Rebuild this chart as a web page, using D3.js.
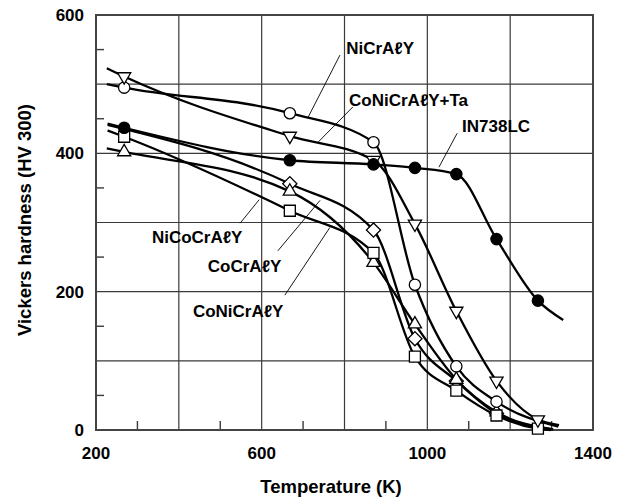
<!DOCTYPE html>
<html>
<head>
<meta charset="utf-8">
<script src="https://cdn.jsdelivr.net/npm/d3@7"></script>
<style>
  body { margin: 0; background: #fff; }
  svg text { font-family: "Liberation Sans", Arial, sans-serif; font-weight: bold; fill: #000; }
</style>
</head>
<body>
<svg id="chart" width="623" height="503"></svg>
<script>
// measured temperatures (K)
const temps = [268, 668, 870, 970, 1070, 1167, 1267];

// hardness at each temperature, null = no marker
const niCrAlY    = [495, 458, 416, 210, 92, 41, null];
const coNiCrAlYTa = [511, 425, 390, 298, 172, 71, 15];
const in738LC    = [437, 390, 384, 379, 370, 276, 187];
const niCoCrAlY  = [402, 345, 242, 153, 73, 26, null];
const coCrAlY    = [null, 356, 289, 132, 71, 24, null];
const coNiCrAlY  = [424, 317, 256, 106, 57, 21, 2];

// where each fitted curve starts and stops [K, HV]
const curveStarts = [[226, 500], [226, 523], [228, 443], [226, 407], [228, 441], [228, 433]];
const curveEnds   = [[1316, 5], [1318, 7], [1328, 159], [1302, 1], [1304, 1], [1298, 0]];

const seriesNames = ["NiCrAℓY", "CoNiCrAℓY+Ta", "IN738LC", "NiCoCrAℓY", "CoCrAℓY", "CoNiCrAℓY"];
const seriesValues = [niCrAlY, coNiCrAlYTa, in738LC, niCoCrAlY, coCrAlY, coNiCrAlY];
const seriesMarks = ["circle", "triDown", "dot", "triUp", "diamond", "square"];

// label anchor [K, HV] and leader line [[K, HV], [K, HV]]
const labelPos = [[804, 552], [811, 477], [1084, 439], [335, 279], [470, 237], [434, 172]];
const leaders = [
  [[789, 542], [712, 452]],
  [[820, 467], [736, 416]],
  [[1072, 429], [1028, 380]],
  [[548, 299], [594, 333]],
  [[639, 259], [741, 332]],
  [[656, 195], [765, 293]]
];

const xTicks = [200, 600, 1000, 1400];
const yTicks = [0, 200, 400, 600];

const svg = d3.select("#chart");
const x = d3.scaleLinear().domain([200, 1400]).range([96, 593]);
const y = d3.scaleLinear().domain([0, 600]).range([430, 15]);

// grid
const grid = svg.append("g").attr("stroke", "#3a3a3a").attr("stroke-width", 1.2);
grid.selectAll("line.v").data([400, 600, 800, 1000, 1200]).enter().append("line")
  .attr("x1", d => x(d)).attr("x2", d => x(d)).attr("y1", y(0)).attr("y2", y(600));
grid.selectAll("line.h").data([100, 200, 300, 400, 500]).enter().append("line")
  .attr("class", "h")
  .attr("x1", x(200)).attr("x2", x(1400)).attr("y1", d => y(d)).attr("y2", d => y(d));

// minor ticks, inward
const ticks = svg.append("g").attr("stroke", "#3a3a3a").attr("stroke-width", 1.4);
ticks.selectAll("line.bx").data(d3.range(300, 1400, 200)).enter().append("line")
  .attr("x1", d => x(d)).attr("x2", d => x(d)).attr("y1", y(0)).attr("y2", y(0) - 9);
ticks.selectAll("line.ly").data(d3.range(50, 600, 100)).enter().append("line")
  .attr("class", "ly")
  .attr("x1", x(200)).attr("x2", x(200) + 8).attr("y1", d => y(d)).attr("y2", d => y(d));

// frame
svg.append("rect")
  .attr("x", x(200)).attr("y", y(600))
  .attr("width", x(1400) - x(200)).attr("height", y(0) - y(600))
  .attr("fill", "none").attr("stroke", "#444").attr("stroke-width", 2);

// tick labels
svg.append("g").selectAll("text").data(xTicks).enter().append("text")
  .attr("x", d => x(d)).attr("y", 459)
  .attr("text-anchor", "middle").attr("font-size", 17)
  .text(d => d);
svg.append("g").selectAll("text").data(yTicks).enter().append("text")
  .attr("x", 84).attr("y", d => y(d) + 6)
  .attr("text-anchor", "end").attr("font-size", 17)
  .text(d => d);

// axis titles
svg.append("text")
  .attr("x", 331).attr("y", 493)
  .attr("text-anchor", "middle").attr("font-size", 18.5)
  .text("Temperature (K)");
svg.append("text")
  .attr("transform", "translate(31,220) rotate(-90)")
  .attr("text-anchor", "middle").attr("font-size", 18.5)
  .text("Vickers hardness (HV 300)");

// curves
const line = d3.line()
  .x(d => x(d[0])).y(d => y(d[1]))
  .curve(d3.curveMonotoneX);

seriesValues.forEach((vals, i) => {
  const pts = [curveStarts[i]]
    .concat(temps.map((t, j) => [t, vals[j]]).filter(p => p[1] !== null))
    .concat([curveEnds[i]]);
  svg.append("path")
    .attr("d", line(pts))
    .attr("fill", "none").attr("stroke", "#000").attr("stroke-width", 2.3);
});

// markers
const symbolFor = {
  circle: d3.symbol().type(d3.symbolCircle).size(100),
  dot: d3.symbol().type(d3.symbolCircle).size(100),
  square: d3.symbol().type(d3.symbolSquare).size(121),
  diamond: d3.symbol().type(d3.symbolSquare).size(100),
  triUp: d3.symbol().type(d3.symbolTriangle).size(75),
  triDown: d3.symbol().type(d3.symbolTriangle).size(75)
};
const rotFor = { diamond: 45, triDown: 180 };

// draw in back-to-front order so squares sit on top like the reference
[4, 3, 5, 0, 1, 2].forEach(i => {
  const kind = seriesMarks[i];
  const pts = temps.map((t, j) => [t, seriesValues[i][j]]).filter(p => p[1] !== null);
  svg.append("g").selectAll("path").data(pts).enter().append("path")
    .attr("d", symbolFor[kind]())
    .attr("transform", d => `translate(${x(d[0])},${y(d[1])}) rotate(${rotFor[kind] || 0})`)
    .attr("fill", kind === "dot" ? "#000" : "#fff")
    .attr("stroke", "#000").attr("stroke-width", 1.3);
});

// labels and leaders
svg.append("g").selectAll("line").data(leaders).enter().append("line")
  .attr("x1", d => x(d[0][0])).attr("y1", d => y(d[0][1]))
  .attr("x2", d => x(d[1][0])).attr("y2", d => y(d[1][1]))
  .attr("stroke", "#000").attr("stroke-width", 0.9);

svg.append("g").selectAll("text").data(seriesNames).enter().append("text")
  .attr("x", (d, i) => x(labelPos[i][0]))
  .attr("y", (d, i) => y(labelPos[i][1]))
  .attr("dy", "0.36em")
  .attr("font-size", 17)
  .text(d => d);
</script>
</body>
</html>
